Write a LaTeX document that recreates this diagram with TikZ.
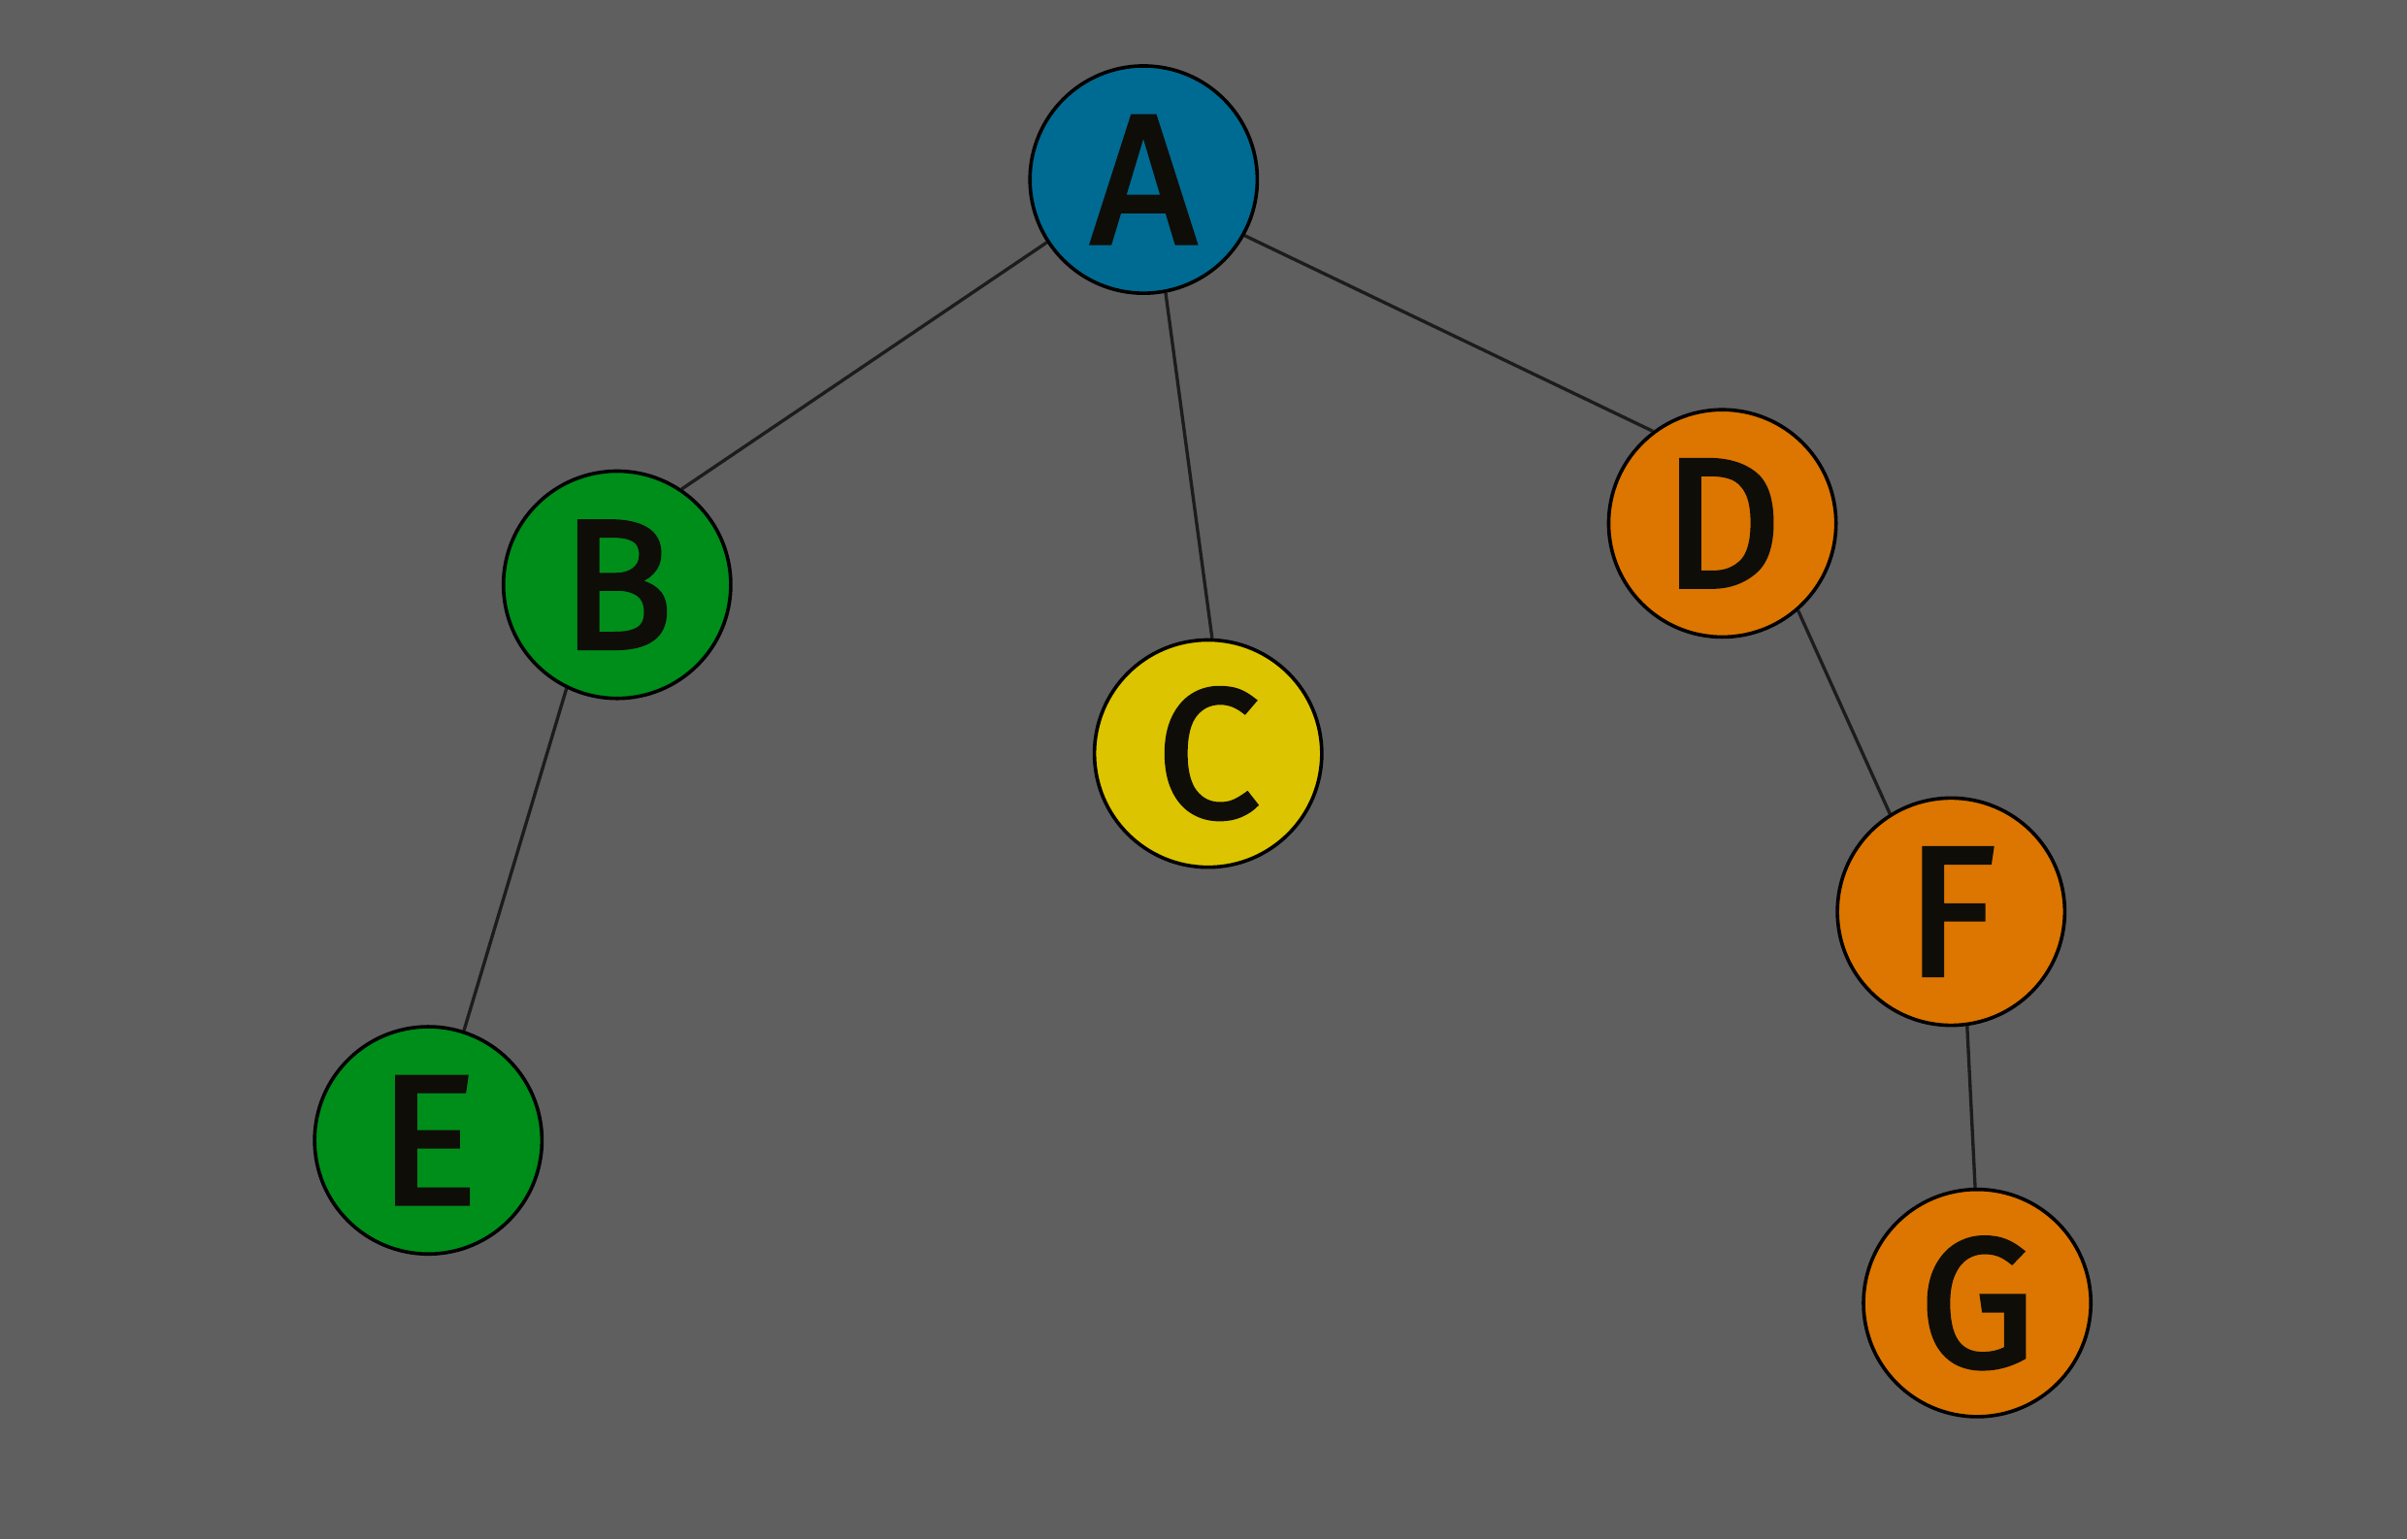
\documentclass[tikz,border=0pt]{standalone}
\usepackage{fontspec}
\setmainfont{Fira Sans}
\newfontfamily\labelfont{Fira Sans}[FakeBold=2.5]
\usetikzlibrary{backgrounds}
\definecolor{canvas}{HTML}{5F5F5F}
\definecolor{nodeblue}{HTML}{006B92}
\definecolor{nodegreen}{HTML}{008E1A}
\definecolor{nodeyellow}{HTML}{DCC400}
\definecolor{nodeorange}{HTML}{DC7600}
\definecolor{ink}{HTML}{0F0D08}
\definecolor{edgeink}{HTML}{1C1C1C}
\begin{document}
\begin{tikzpicture}[x=0.01cm,y=-0.01cm,
  vertex/.style={circle,draw=black,line width=0.65pt,minimum size=1.48cm,inner sep=0pt,
    text=ink,font=\labelfont\fontsize{34}{34}\selectfont},
  link/.style={draw=edgeink,line width=0.6pt}]
  \useasboundingbox (0,0) rectangle (1568,1003);
  \node[vertex,fill=nodeblue]   (A) at (745,117) {A};
  \node[vertex,fill=nodegreen]  (B) at (402,381) {B};
  \node[vertex,fill=nodeyellow] (C) at (787,491) {C};
  \node[vertex,fill=nodeorange] (D) at (1122,341) {D};
  \node[vertex,fill=nodegreen]  (E) at (279,743) {E};
  \node[vertex,fill=nodeorange] (F) at (1271,594) {F};
  \node[vertex,fill=nodeorange] (G) at (1288,849) {G};
  \begin{scope}[on background layer]
    \fill[canvas] (0,0) rectangle (1568,1003);
    \draw[link] (A.213) -- (B.56);
    \draw[link] (A.281) -- (C.88);
    \draw[link] (A.331) -- (D.127);
    \draw[link] (B.244) -- (E.72);
    \draw[link] (D.311) -- (F.122);
    \draw[link] (F.278) -- (G.91);
  \end{scope}
\end{tikzpicture}
\end{document}
